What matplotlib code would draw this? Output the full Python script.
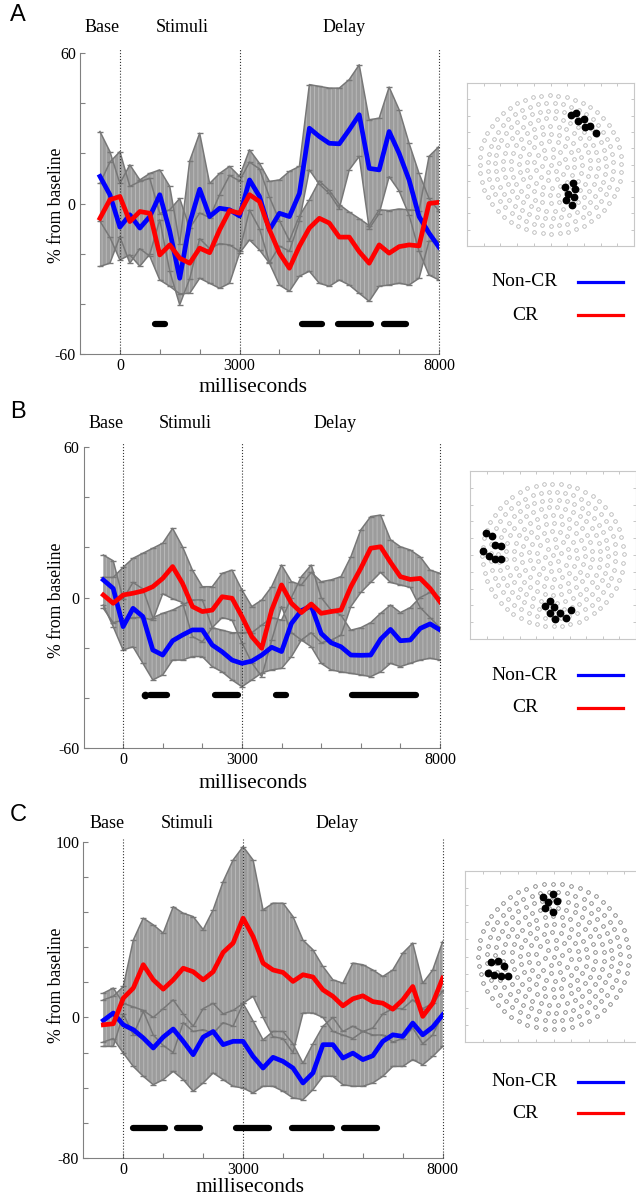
import numpy as np
import matplotlib
matplotlib.use('Agg')
import matplotlib.pyplot as plt
from matplotlib.lines import Line2D

plt.rcParams['font.family'] = ['Liberation Serif', 'DejaVu Serif']
plt.rcParams['axes.unicode_minus'] = False
plt.rcParams['hatch.linewidth'] = 0.6

W, H = 636, 1201

# time axis (ms), values read every 250 ms
t = np.arange(-500, 8001, 250)

# ---- panel A ----
a_blue = [10.8, 3.5, -9.4, -4.5, -9.8, -5.2, 3.5, -11, -29.8, -7.8, 5.7, -5.2, -1.9, -2.5, -5, 9.4, 2.8,
          -10.5, -3.9, -5.2, 4, 30, 26.7, 24, 23.8, 29.4, 35.4, 14, 13.4, 28.7, 20, 9.4, -5.2, -11.8, -17.4]
a_blue_hi = [28.7, 20.7, 8, 15.4, 9.4, 12, 13.4, 6.8, -16, 17, 28, 8, 12, 14.8, 10.8, 21.4, 16, 8.8, 9.4,
             12.8, 14.8, 47.4, 46.7, 46, 46, 49.4, 55.3, 33.4, 34, 46.4, 37.4, 24, 12, 2, -3]
a_blue_lo = [-7, -13.5, -22.5, -20.5, -25, -20.2, -6.5, -27, -40.4, -30, -14, -18, -16, -16.5, -19, -2.6, -10,
             -23.5, -17, -19, -7, 13.4, 7.7, 4, -2, 13.4, 18.8, -10, -4, 10.7, 5, -4.6, -19, -28.5, -30.5]
a_red = [-5.9, 1.5, 2.8, -7.2, -3.2, -3.9, -20.5, -16.5, -21.8, -23.8, -17.8, -19.6, -10.5, -2.8, -3.9, 3.5,
         0.8, -10.5, -19.8, -25.8, -17, -9.8, -5.9, -7.8, -13.4, -13.4, -19.2, -23.8, -16.5, -19.8, -17.2,
         -16.5, -16.9, 0, 0.5]
a_red_hi = [8, 16.5, 20.7, 6.8, 8.8, 10, -4, -2.5, 2, -9.8, -3.8, -5.6, 3.5, 11.2, 9, 16.5, 13.8, 2.5, -6.8,
            -14.8, -5, 1.5, 9, 5.2, -0.4, -3.4, -6, -8.8, -2.5, -2.8, -2.2, -2.5, -2.9, 18.8, 22.7]
a_red_lo = [-25.1, -23.8, -13.2, -23.8, -18, -21, -30.5, -33, -36, -35.8, -29.8, -31.8, -33.8, -31.8, -19.8,
            -14.5, -18.5, -23.8, -32.5, -35, -29, -27, -31.8, -33, -30.5, -32.5, -35.8, -39, -33, -32.5,
            -31.8, -32.5, -29.8, -15, -15]
a_sig = [(875, 1125), (4570, 5070), (5470, 6290), (6630, 7180)]

# ---- panel B ----
b_blue = [7, 3.6, -11.6, -4.3, -7.6, -20.9, -22.9, -17.2, -14.9, -12.9, -12.9, -18.9, -21.6, -24.9, -26.2,
          -25.3, -22.9, -19.8, -21.5, -10.3, -5.2, -3.4, -14.3, -18, -19.6, -22.9, -23, -22.9, -16.6, -12.7,
          -17.2, -16.9, -12.3, -10.5, -12.9]
b_blue_hi = [16.9, 14.6, -0.6, 6, 3.4, -8, -6.3, -5, -3, -1, -0.9, -12, -13, -14, -14, -14, -11, -8, -9, 0,
             8.3, 12.9, 0, -5, -7, -13, -12, -10, -6.3, -3, -6, -4, 0, 2, 0]
b_blue_lo = [-3, -11.6, -20.9, -19.6, -26.2, -32.8, -30.8, -24.9, -24.9, -23.5, -23.5, -27.5, -29.6, -32.8,
             -35.5, -32.8, -30, -28.8, -28.2, -23.5, -16.9, -19.6, -26.2, -28.8, -29.6, -30.2, -30.8, -31.5,
             -29.6, -26.2, -27.5, -26.2, -24.9, -24.2, -24.9]
b_red = [1, -2.3, 1, 1.7, 2.6, 4.3, 7.6, 12.3, 5.6, -3.6, -5.6, -5, 0.3, -0.3, -7.6, -15.6, -20.2, -5, 5,
         -2.3, -6, -2.6, -6.3, -5.6, -5, 4.3, 11.6, 19.6, 20.2, 14, 8.3, 7.2, 7.6, 3.6, -1.7]
b_red_hi = [8, 8, 12, 15.6, 17.6, 19.6, 21.6, 27.5, 20.2, 10.9, 4.3, 4.3, 9.6, 10.9, 3, -3.6, -1, 4.3, 12.9,
            6.3, 5, 10, 6.3, 7, 8.3, 16.2, 26.9, 32.2, 32.8, 23, 20.2, 18.9, 16.2, 10.9, 9.6]
b_red_lo = [-4.3, -10, -9, -8, -8, -9, 1.5, -0.5, -2, -15.6, -17.6, -12, -8, -9, -18, -26, -31.5, -17, -3.6,
            -14, -16.9, -14, -18, -17, -15, -3.6, 2, 6, 10, 6, 5, 4, -4, -8, -12]
b_sig = [(540, 540), (680, 1100), (2320, 2900), (3870, 4110), (5770, 7390)]

# ---- panel C ----
c_blue = [-1.7, 2.5, -4.2, -7, -11.7, -17.4, -11.2, -6.6, -13.6, -21.2, -11.2, -8, -15.5, -13.6, -13.6,
          -22.2, -28.8, -22.7, -25, -28.8, -37.3, -31.6, -15.5, -15.5, -23.1, -20.3, -24, -21.8, -13.6,
          -9.9, -10.8, -3.2, -9.9, -5.5, 1.5]
c_blue_hi = [13.8, 16.7, 8, 6, 4, 0, 5, 10, 2, -5, 5, 8, 2, 4, 8, -2, -12.7, -8, -8, -15, -26, -15, -5, 0,
             -8, -5, -8, -6, 2, 5, 5, 10, 5, 8, 15]
c_blue_lo = [-14, -12, -20.3, -27.9, -33.5, -38.3, -35.4, -30.7, -35.4, -42, -37.3, -31.6, -35.4, -39.2,
             -40.2, -43, -39.2, -39.2, -42, -45.8, -46.8, -41.1, -33.5, -33.5, -38.3, -39.2, -39.2, -37.3,
             -33.5, -27.9, -27.9, -24, -27, -22.2, -16.5]
c_red = [-4.2, -3.6, 11, 16.7, 30, 21.4, 16.1, 21.4, 28, 26, 21.4, 26, 37, 42.3, 56.5, 46, 30.9, 27, 25.6,
         20.5, 24.3, 23, 15.7, 12, 6.6, 10.6, 12.3, 9, 8.1, 4.7, 10, 17.6, 0.6, 8.1, 22.4]
c_red_hi = [10, 12, 17.6, 44, 56.5, 52.7, 48, 63, 59.3, 57.4, 50, 61.2, 77.3, 89.6, 97.2, 89.6, 61.2, 65, 65,
            57.4, 44, 38.5, 29, 21.4, 19.5, 30.9, 30, 27, 23.3, 27, 36.6, 42.3, 19.5, 27, 43.2]
c_red_lo = [-16.5, -16.5, 2, -10, 3.5, -10, -16, -20, -3, -8, -7, -9, -3, -5, 8, 12, 0, -11, -12, -20, 2.5,
            2.5, 0, -8, -10, -12, -8, -10, -10, -14, -12, -6, -15, -10, 2]
c_sig = [(234, 1044), (1336, 1920), (2822, 3657), (4217, 5219), (5536, 6347)]

# highlighted electrodes (box-normalised x, y)
a_hot = [(.621, .802), (.655, .816), (.665, .765), (.699, .777), (.709, .730), (.739, .736), (.772, .693),
         (.635, .389), (.589, .362), (.645, .348), (.607, .321), (.641, .301), (.595, .280), (.629, .254)]
b_hot = [(.096, .628), (.131, .611), (.151, .557), (.185, .553), (.080, .526), (.114, .496), (.151, .476),
         (.187, .478), (.480, .225), (.454, .196), (.508, .190), (.482, .156), (.542, .154), (.606, .170),
         (.514, .119), (.580, .125)]
c_hot = [(.438, .850), (.495, .864), (.467, .821), (.520, .823), (.453, .784), (.495, .762), (.149, .470),
         (.185, .474), (.223, .446), (.130, .402), (.166, .394), (.202, .388), (.242, .386)]

# electrode net drawn as rings
ring_r = [0.0, 0.05, 0.097, 0.144, 0.19, 0.237, 0.284, 0.33, 0.376, 0.425]
ring_n = [1, 6, 12, 18, 24, 30, 36, 42, 47, 52]

phase_names = ['Base', 'Stimuli', 'Delay']


def px_rect(l, t_, r, b):
    return [l / W, 1 - b / H, (r - l) / W, (b - t_) / H]


def fig_text(x, y, s, **kw):
    fig.text(x / W, 1 - y / H, s, **kw)


def draw_panel(rect, ylim, ylabels, series, sig, sig_y):
    ax = fig.add_axes(rect)
    for mean, hi, lo, col in series:
        ax.fill_between(t, lo, hi, facecolor='#9c9c9c', edgecolor='#bdbdbd', hatch='||||',
                        linewidth=0, zorder=1)
    for mean, hi, lo, col in series:
        for edge in (hi, lo):
            ax.plot(t, edge, color='#777777', lw=1.1, marker='_', ms=4.5, mew=1.0, zorder=2)
    for x in (0, 3000, 8000):
        ax.plot([x, x], [ylim[0], ylim[1] + 1.5], color='#333333', lw=0.8, ls=':', clip_on=False, zorder=3)
    for s, e in sig:
        if s == e:
            ax.plot([s], [sig_y], ls='none', marker='o', ms=4.5, color='k', zorder=3)
        else:
            ax.plot([s, e], [sig_y, sig_y], color='k', lw=4.5, solid_capstyle='round', zorder=3)
    for mean, hi, lo, col in series:
        ax.plot(t, mean, color=col, lw=3.4, zorder=4, solid_joinstyle='round')
    ax.set_xlim(-1000, 8000)
    ax.set_ylim(*ylim)
    ax.set_xticks(np.arange(0, 8001, 1000))
    ax.set_xticklabels(['0', '', '', '3000', '', '', '', '', '8000'])
    yt = np.arange(ylim[0], ylim[1] + 1, 20)
    ax.set_yticks(yt)
    ax.set_yticklabels([str(v) if v in ylabels else '' for v in yt])
    ax.tick_params(direction='in', length=3.5, width=0.8, color='#808080', labelsize=11.5, pad=3)
    for sp in ('top', 'right'):
        ax.spines[sp].set_visible(False)
    for sp in ('left', 'bottom'):
        ax.spines[sp].set_color('#808080')
    ax.patch.set_alpha(0)
    return ax


def draw_map(rect, hot, dot_col):
    ax = fig.add_axes(rect)
    for r, n in zip(ring_r, ring_n):
        ang = np.linspace(0, 2 * np.pi, n, endpoint=False) + r * 4.0
        ax.plot(0.5 + r * np.cos(ang), 0.5 + r * np.sin(ang), ls='none', marker='o', ms=2.6,
                mfc='none', mec=dot_col, mew=0.6)
    hx, hy = zip(*hot)
    ax.plot(hx, hy, ls='none', marker='o', ms=4.6, color='k')
    ax.set_xlim(0, 1)
    ax.set_ylim(0, 1)
    ax.set_xticks(np.arange(0.1, 1.0, 0.1))
    ax.set_yticks(np.arange(0.1, 1.0, 0.1))
    ax.set_xticklabels([])
    ax.set_yticklabels([])
    ax.tick_params(direction='in', length=2, width=0.5, color='#b0b0b0', top=True, right=True)
    for sp in ax.spines.values():
        sp.set_color('#c8c8c8')
    return ax


fig = plt.figure(figsize=(W / 100, H / 100), dpi=100)

panels = [
    dict(rect=px_rect(80, 53, 439, 354), ylim=(-60, 60), ylab=(-60, 0, 60),
         series=[(a_blue, a_blue_hi, a_blue_lo, '#0000ff'), (a_red, a_red_hi, a_red_lo, '#ff0000')],
         sig=a_sig, sig_y=-48, phase_x=(102, 182, 344), phase_y=27, letter='A', letter_y=15,
         xlab_x=253, xlab_y=387, ylab_y=205, map=(467, 83, 634, 246), hot=a_hot, dot='#b8b8b8',
         leg=(282, 315)),
    dict(rect=px_rect(83.5, 446.7, 440, 748.3), ylim=(-60, 60), ylab=(-60, 0, 60),
         series=[(b_blue, b_blue_hi, b_blue_lo, '#0000ff'), (b_red, b_red_hi, b_red_lo, '#ff0000')],
         sig=b_sig, sig_y=-38.8, phase_x=(106, 185, 335), phase_y=423, letter='B', letter_y=412,
         xlab_x=253, xlab_y=783, ylab_y=600, map=(470, 471, 636, 639), hot=b_hot, dot='#b8b8b8',
         leg=(675, 708)),
    dict(rect=px_rect(83.4, 841.7, 442.7, 1158), ylim=(-80, 100), ylab=(-80, 0, 100),
         series=[(c_blue, c_blue_hi, c_blue_lo, '#0000ff'), (c_red, c_red_hi, c_red_lo, '#ff0000')],
         sig=c_sig, sig_y=-62.9, phase_x=(107, 187, 337), phase_y=823, letter='C', letter_y=815,
         xlab_x=250, xlab_y=1188, ylab_y=985, map=(465, 871, 642, 1042), hot=c_hot, dot='#7c7c7c',
         leg=(1082, 1113)),
]

for p in panels:
    draw_panel(p['rect'], p['ylim'], p['ylab'], p['series'], p['sig'], p['sig_y'])
    for name, xx in zip(phase_names, p['phase_x']):
        fig_text(xx, p['phase_y'], name, ha='center', va='center', fontsize=13)
    fig_text(18, p['letter_y'], p['letter'], ha='center', va='center', fontsize=17,
             family=['Liberation Sans', 'DejaVu Sans'])
    fig_text(p['xlab_x'], p['xlab_y'], 'milliseconds', ha='center', va='center', fontsize=15.5)
    fig_text(57, p['ylab_y'], '% from baseline', ha='center', va='center', rotation=90, fontsize=12.7)
    draw_map(px_rect(*p['map']), p['hot'], p['dot'])
    for yy, name, col in zip(p['leg'], ['Non-CR', 'CR'], ['#0000ff', '#ff0000']):
        fig_text(525, yy, name, ha='center', va='center', fontsize=14)
        fig.add_artist(Line2D([578 / W, 623 / W], [1 - yy / H, 1 - yy / H], color=col, lw=2.3))

fig.savefig('out.png', dpi=100)
